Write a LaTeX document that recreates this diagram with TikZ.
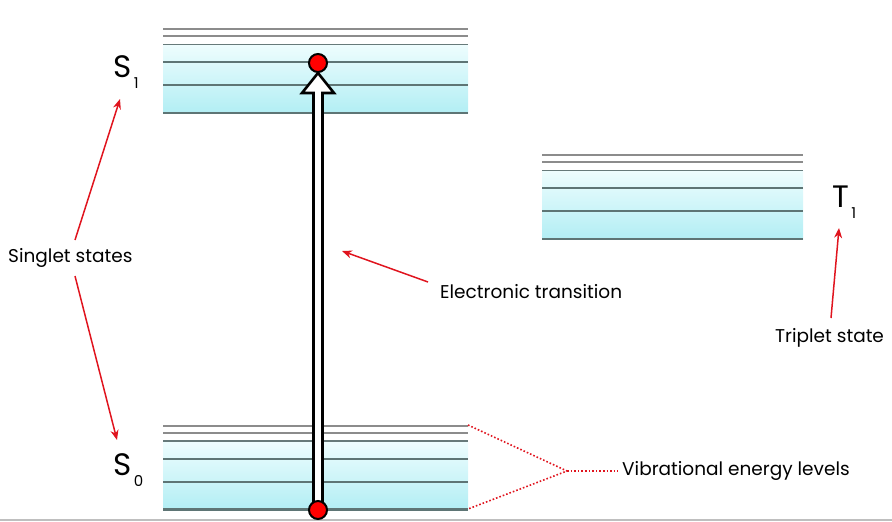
\documentclass[tikz,border=0pt]{standalone}
\usepackage{fontspec}
\setmainfont{Poppins}
\usetikzlibrary{arrows.meta}
\definecolor{lvlgray}{HTML}{8C8C8C}
\definecolor{lvldark}{HTML}{5E7575}
\definecolor{bandtop}{HTML}{EEFDFE}
\definecolor{bandbot}{HTML}{B2EEF4}
\definecolor{pointer}{HTML}{E0141E}
\newcommand\energyband[3]{%
  \fill[top color=bandtop,bottom color=bandbot] (#1,#3-68.5) rectangle (#2,#3);
  \draw[lvlgray,line width=1.6pt] (#1,#3-84) -- (#2,#3-84);
  \draw[lvlgray,line width=1.6pt] (#1,#3-77) -- (#2,#3-77);
  \draw[lvldark!80!lvlgray,line width=1.8pt] (#1,#3-68.5) -- (#2,#3-68.5);
  \draw[lvldark,line width=1.6pt] (#1,#3-51) -- (#2,#3-51);
  \draw[lvldark,line width=1.8pt] (#1,#3-28) -- (#2,#3-28);
  \draw[lvldark,line width=2.6pt] (#1,#3) -- (#2,#3);
}
\tikzset{
  lbl/.style={inner sep=0pt,font=\fontsize{18.5}{22}\selectfont},
  statelbl/.style={inner sep=0pt,anchor=base west,font=\fontsize{31}{31}\selectfont},
  redarrow/.style={draw=pointer,line width=1.5pt,-{Stealth[length=10pt,width=8pt]}},
  reddots/.style={draw=pointer,line width=1.6pt,dotted},
  dot/.style={circle,fill=red,draw=black,line width=2pt,minimum size=18pt,inner sep=0pt}
}
\newcommand\subidx[1]{\raisebox{-11pt}{\fontsize{15}{15}\selectfont\,#1}}
\begin{document}
\begin{tikzpicture}[x=1pt,y=-1pt]
\useasboundingbox (0,0) rectangle (892,522);
\draw[gray!50,line width=2pt] (0,520) -- (892,520);
% bands
\energyband{163}{468}{113}
\energyband{163}{468}{509.7}
\energyband{542}{803}{239}
% transition arrow
\draw[black,line width=2.6pt,fill=white,line join=miter]
  (313.5,510) -- (313.5,93) -- (302,93) -- (318,73) -- (334,93) -- (322.5,93) -- (322.5,510) -- cycle;
\node[dot] (up) at (318,63) {};
\node[dot] (low) at (318,510) {};
% state labels
\node[statelbl] (S1) at (113,77) {S\subidx{1}};
\node[statelbl] (S0) at (113,475) {S\subidx{0}};
\node[statelbl] (T1) at (832,207) {T\subidx{1}};
% text labels
\node[lbl,anchor=west] (singlet) at (8,258) {Singlet states};
\node[lbl,anchor=west] (etrans) at (440,292) {Electronic transition};
\node[lbl,anchor=west] (triplet) at (775,338) {Triplet state};
\node[lbl,anchor=west] (vib) at (622,471) {Vibrational energy levels};
% pointer coordinates
\coordinate (sgA) at (75,240);
\coordinate (sgB) at (75,276);
\coordinate (s1tip) at (120,99);
\coordinate (s0tip) at (117,440);
\coordinate (etA) at (428,282);
\coordinate (ettip) at (342,251);
\coordinate (trA) at (831,318);
\coordinate (trtip) at (839,228);
\coordinate (vbj) at (567,471);
\coordinate (vbtop) at (468,425);
\coordinate (vbbot) at (468,509);
\coordinate (vbend) at (618,471);
\draw[redarrow] (sgA) -- (s1tip);
\draw[redarrow] (sgB) -- (s0tip);
\draw[redarrow] (etA) -- (ettip);
\draw[redarrow] (trA) -- (trtip);
\draw[reddots] (vbtop) -- (vbj) -- (vbbot);
\draw[reddots] (vbj) -- (vbend);
\end{tikzpicture}
\end{document}
